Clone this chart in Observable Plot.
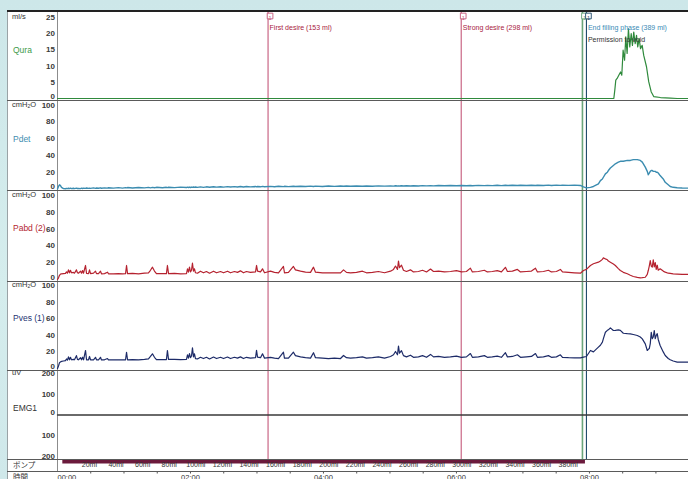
<!DOCTYPE html>
<html><head><meta charset="utf-8">
<script src="https://cdn.jsdelivr.net/npm/d3@7"></script>
<script src="https://cdn.jsdelivr.net/npm/@observablehq/plot@0.6"></script>
<style>
body{margin:0;width:688px;height:479px;overflow:hidden;position:relative;background:linear-gradient(180deg,#cde7e9 0%,#d5eded 60%,#cfe8ea 100%);font-family:"Liberation Sans",Arial,sans-serif}
.box{position:absolute;left:7px;top:11px;width:681px;height:468px;background:#fff;border-left:1px solid #9aa3a6;box-sizing:border-box}
.topline{position:absolute;left:7px;top:10px;width:681px;height:1.6px;background:#222}
.pan{position:absolute;left:7px;width:681px}
.sep{position:absolute;left:7px;width:681px;height:1px;background:#5a5a5a}
.lab{position:absolute;left:12px;font-size:7.5px;color:#333;white-space:nowrap;transform:translateY(-50%);line-height:1}
.lab sub{font-size:5px;vertical-align:-1px}
.name{font-size:8.5px;left:13px}
.jp{font-family:"Noto Sans CJK JP",sans-serif;font-size:7.5px;left:13px}
</style></head><body>
<div class="box"></div>
<div id="p1" class="pan" style="top:11px"></div>
<div id="p2" class="pan" style="top:100px"></div>
<div id="p3" class="pan" style="top:190px"></div>
<div id="p4" class="pan" style="top:281px"></div>
<div id="p5" class="pan" style="top:370px"></div>
<div id="p6" class="pan" style="top:459px"></div>
<div id="p7" class="pan" style="top:471px;height:8px;overflow:hidden"></div>
<div class="topline"></div>
<div class="sep" style="top:100px"></div>
<div class="sep" style="top:190px"></div>
<div class="sep" style="top:281px"></div>
<div class="sep" style="top:370px"></div>
<div class="sep" style="top:459px"></div>
<div class="sep" style="top:471px"></div>

<div class="lab" style="top:17px">ml/s</div>
<div class="lab name" style="top:50px;color:#3c9a4a">Qura</div>
<div class="lab" style="top:105px">cmH<sub>2</sub>O</div>
<div class="lab name" style="top:139px;color:#3e8db0">Pdet</div>
<div class="lab" style="top:195px">cmH<sub>2</sub>O</div>
<div class="lab name" style="top:228px;color:#b3262f">Pabd (2)</div>
<div class="lab" style="top:285px">cmH<sub>2</sub>O</div>
<div class="lab name" style="top:318px;color:#243372">Pves (1)</div>
<div class="lab" style="top:373px">uV</div>
<div class="lab name" style="top:408px;color:#333">EMG1</div>
<div class="lab jp" style="top:465px">ポンプ</div>
<div class="lab jp" style="top:477px">時間</div>

<script>
// ---------- data (time in seconds) ----------
const XMAX = 569.4;

const fillTime = [0,0.9,1.8,2.7,3.6,5.4,7.2,8.1,9.0,9.9,10.8,11.7,12.6,14.4,15.3,17.1,18.0,18.9,20.8,21.7,22.6,23.5,25.3,26.2,28.0,28.9,29.8,32.5,34.3,35.2,37.0,38.8,39.7,42.4,45.1,46.0,50.5,55.0,58.7,61.4,62.3,63.2,67.7,73.1,78.5,82.1,83.9,85.7,87.5,89.3,94.7,98.3,99.2,100.2,105.6,111.0,116.4,117.3,118.2,119.1,120.0,120.9,121.8,122.7,123.6,124.5,126.3,129.0,131.7,134.4,137.2,140.8,143.5,147.1,149.8,153.4,156.1,159.7,162.4,165.1,167.8,170.5,174.1,178.7,179.6,180.5,183.2,185.0,186.8,192.2,195.8,199.4,203.9,204.8,208.4,212.9,214.7,219.3,223.8,228.3,231.0,232.8,239.1,244.5,249.9,255.4,258.1,260.8,264.4,269.8,275.2,278.8,284.2,289.6,295.1,300.5,303.2,305.0,306.8,307.7,308.6,310.4,312.2,314.9,318.5,321.2,325.7,329.4,333.0,336.6,339.3,343.8,349.2,354.6,360.0,364.5,369.0,372.6,374.4,379.8,385.2,387.9,392.3,396.8,400.6,404.2,406.0,410.5,415.0,417.8,423.2,427.7,431.3,433.1,438.5,443.0,445.7,450.2,453.8,455.7,461.1,466.5,471.9,474.6,477.3,480.9,483.6,488.1,489.9,491.7,492.6,494.4,496.2,497.1,498.9,501.6,503.4,506.1,507.9,510.6,514.2,516.9,519.6,523.2,525.9,527.7,530.4,532.2,533.1,534.0,534.9,535.8,536.7,537.6,538.5,539.4,540.3,541.2,542.1,543.8,546.6,548.4,551.1,552.9,555.6,559.2,563.7,569.4];

const pabdValues = [0,2,5,6.5,6.8,7,7.2,9,7.5,11.5,8,11,8,8.5,7.5,11.5,8,7.5,9.9,7.5,10.7,7.5,16.7,7.2,7,11.5,7,7.5,9.9,7,7,9.9,6.8,7,8.7,6.8,6.8,7,6.8,7,16.7,7,7.2,6.8,7.5,8,11,14.7,10,7,7,7,16.7,7,7.2,6.8,7,12.7,8.7,14.7,9,11,19.4,10,12.7,8,7.5,9.9,8,9.5,7.5,9.9,8,9.5,8,9.9,8,9.5,8.5,10.3,8,9.5,8.5,9,16.7,9.9,9,12.7,8,9.9,8.5,8,15.5,8,8.5,15.5,11.5,9.9,8.7,8.5,14.7,8.7,8,7.8,8,7.8,11.5,8.5,8,8.5,9.9,8,8.5,9.5,8,9.9,12,16,12,22,14,17,11,9.5,11.5,9,9.5,11,9,12.5,9.5,10,9,9.5,10.5,9,9.5,13.5,9,9.5,11,9,9.5,10.5,9,14.5,9.5,10,12,9,9.5,10,13.5,9,9.5,11,9,9.5,12,9,8.5,8,7.5,10.7,12,16.7,18.7,20.6,22,24,25.8,24.5,23.5,22,20.6,18.5,16.7,13,10.7,8.5,6.8,5,3.6,2.5,2,2.2,2.7,6,10.7,16,22.6,16,14.7,23.5,15,20,12,17,11,12.7,10,8.7,7.5,7.2,6.8,6.5,6.2,6];

const pvesValues = [0,3,7,8,8.5,9,9.5,11.5,10,14,10.5,13.5,10.5,11,10.5,15.5,11,10.5,13,10.5,13.6,10.5,21.7,10.5,10.5,14.5,10.5,10.5,13.5,10.5,10.5,13.5,10.3,10.5,12,10.3,10.5,10.5,10.5,10.5,19.6,10.5,10.8,10.5,11,11.5,14.5,17.7,13.5,10.8,10.8,10.8,21.7,11,11,10.8,11,16.5,12.5,18,13,15,24.9,14,17.7,12,11.5,13.5,12,13.5,11.5,13.8,12,13.5,12,13.8,12,13.5,12.5,14,12,13.5,12.5,13,22,13.8,13,17.7,12.5,13.5,12.5,12,19.6,12.5,12.5,19.6,15.5,14,13,12.5,19,13,12.5,12,12.5,12,15.7,13,12.5,13,14,12.5,13,14,12.5,14.5,16.5,20.5,16.5,27,18.5,21.5,15.5,14,16,13.5,14,15.5,13.5,17,14,14.5,13.5,14,15,13.5,14,18,13.5,14,15.5,13.5,14,15,13.5,19,14,14.5,16.5,13.5,14,14.5,18,13.5,14,15.5,13.5,14,16.5,13.5,13,12.8,12.9,13.8,14.5,21.7,20,25.7,28,31.7,36,43.7,46,46.6,49,45.8,46,46.5,46,42.5,42,41.8,41,39.8,38,35.7,29.7,21.7,23,24,30,43.7,36,38,45.8,36,40,42,35,27.7,20,15.7,12,10.5,9,7.6,7.6,7.6];

const pdetValues = [0,3,5,4,2,0.5,0.3,0.8,0.4,0.9,0.5,1.0,0.4,0.9,0.5,1.1,0.6,0.8,0.5,1.0,0.6,1.0,0.7,1.2,0.7,1.1,0.8,1.3,0.8,1.2,0.9,1.4,0.9,1.3,1.0,1.5,1.0,1.6,1.1,1.6,1.3,1.7,1.2,1.8,1.3,1.9,1.4,1.9,1.5,2.0,1.5,2.0,1.7,2.1,1.6,2.2,1.7,2.2,1.8,2.3,1.8,2.3,1.9,2.4,1.9,2.4,2.0,2.5,2.0,2.6,2.1,2.6,2.2,2.7,2.2,2.8,2.3,2.8,2.4,2.9,2.4,2.9,2.5,3.0,2.6,3.0,2.6,3.1,2.7,3.1,2.7,3.2,2.8,3.2,2.8,3.3,2.9,3.3,2.9,3.4,3.0,3.4,3.0,3.5,3.1,3.5,3.2,3.5,3.2,3.6,3.3,3.6,3.3,3.7,3.4,3.7,3.4,3.8,3.5,3.8,3.5,3.8,3.5,3.9,3.6,3.9,3.6,4.0,3.7,4.0,3.7,4.1,3.8,4.1,3.8,4.2,3.9,4.2,3.9,4.3,4.0,4.3,4.0,4.4,4.0,4.4,4.1,4.4,4.1,4.5,4.1,4.5,4.2,4.5,4.2,4.6,4.2,4.6,4.3,4.6,4.3,4.6,4.2,2.5,1.4,2,3,6,10,12,14,18,20,22,25,28,30,32,33,33,34,34,35,35,34,32,26,21,17,19,21,22,22,21,21,21,20,20,19,16,12,8,5,3,2,1.5,1.2,1];

const flowTime = [0,502.0,502.9,503.8,505.0,506.5,508.1,509.2,510.4,511.7,512.8,514.0,515.2,516.4,517.7,518.8,520.0,521.3,522.5,523.6,524.9,526.1,527.6,529.0,531.5,533.5,535.7,538.0,544.1,553.1,559.2,569.4];
const flowValues = [0,0,2.6,5.7,6.2,7.2,8.2,7.2,14.9,11.8,19,13.9,21.5,15.9,20,16.4,20.5,16.9,19.5,15.9,18.5,15.4,16.4,13.3,9.8,5.2,2.1,0.6,0.3,0.1,0,0];

const emgTime = [0, 569.4];
const emgValues = [0, 0];

const markerTime = [190.0, 364.3, 473.7, 477.3];
const markerText = ["First desire (153 ml)", "Strong desire (298 ml)", "", "End filling phase (389 ml)"];
const voidText = "Permission to void";

const pumpStart = 4.8, pumpEnd = 476.4, pumpRateMlPerMin = 50;
const pumpVolumes = [20,40,60,80,100,120,140,160,180,200,220,240,260,280,300,320,340,360,380];
const timeTicks = [0,120,240,360,480];

// ---------- styles ----------
const markerColors = ["#c4587a", "#c4587a", "#6aa57a", "#1f4a6a"];
const FONT = '"Liberation Sans",Arial,sans-serif';

const fill = fillTime.map((t, i) => ({t, pabd: pabdValues[i], pves: pvesValues[i], pdet: pdetValues[i]}));
const flow = flowTime.map((t, i) => ({t, v: flowValues[i]}));
const emg = emgTime.map((t, i) => ({t, v: emgValues[i]}));
const markers = markerTime.map((t, i) => ({t, text: markerText[i], color: markerColors[i]}));

function markerRules(mt, mb) {
  return markers.map(m => Plot.ruleX([m.t], {stroke: m.color, strokeWidth: m.color === "#6aa57a" ? 1.6 : 1.1, insetTop: -mt, insetBottom: -mb}));
}
function yLabels(ticks, zero, fmt) {
  const common = {tickSize: 0, tickPadding: 2.5, anchor: "left", label: null, fontSize: 8, fontWeight: "bold", fontFamily: FONT, color: "#3a3a3a", tickFormat: fmt};
  return [
    Plot.axisY(ticks.filter(d => d !== zero), common),
    Plot.axisY([zero], {...common, dy: -2.5})
  ];
}
function panel(id, {height, mt, mb, domain, ticks, zero, fmt, marks}) {
  const chart = Plot.plot({
    width: 681, height, marginLeft: 50, marginRight: 0, marginTop: mt, marginBottom: mb,
    x: {domain: [0, XMAX], axis: null},
    y: {domain, axis: null},
    style: {background: "transparent", overflow: "visible"},
    marks: [
      ...markerRules(mt, mb),
      Plot.ruleX([0], {stroke: "#8c8c8c", strokeWidth: 1, insetTop: -mt, insetBottom: -mb}),
      ...marks,
      ...yLabels(ticks, zero, fmt)
    ]
  });
  document.getElementById(id).appendChild(chart);
}

// Qura
panel("p1", {height: 89, mt: 6, mb: 2, domain: [0, 25], ticks: [0,5,10,15,20,25], zero: 0,
  marks: [
    Plot.line(flow, {x: "t", y: "v", stroke: "#2f8a3c", strokeWidth: 1.2}),
    ...markers.map(m => Plot.dot([m.t], {x: d => d, frameAnchor: "top", dy: -1.5, dx: 2, symbol: "square", r: 3.2, stroke: m.color, fill: "white", strokeWidth: 0.9})),
    ...markers.map(m => Plot.text([m.t], {x: d => d, frameAnchor: "top", dy: -1.5, dx: 2, text: () => "1", fontSize: 5.5, fill: m.color, fontFamily: FONT})),
    ...markers.filter(m => m.text).map(m => Plot.text([m], {x: "t", text: "text", frameAnchor: "top", dy: 8, dx: 1.5, textAnchor: "start", fill: m.color === "#1f4a6a" ? "#3a8ab5" : "#a8203e", fontSize: 7, fontFamily: FONT})),
    Plot.text([markers[3]], {x: "t", text: () => voidText, frameAnchor: "top", dy: 20, dx: 1.5, textAnchor: "start", fill: "#333", fontSize: 7, fontFamily: FONT})
  ]});

// Pdet
panel("p2", {height: 90, mt: 4.5, mb: 1.5, domain: [0, 100], ticks: [0,20,40,60,80,100], zero: 0,
  marks: [Plot.line(fill, {x: "t", y: "pdet", stroke: "#3b8cb0", strokeWidth: 1.4})]});

// Pabd
panel("p3", {height: 91, mt: 5, mb: 2, domain: [0, 100], ticks: [0,20,40,60,80,100], zero: 0,
  marks: [Plot.line(fill, {x: "t", y: "pabd", stroke: "#b5222f", strokeWidth: 1.2})]});

// Pves
panel("p4", {height: 89, mt: 4, mb: 2, domain: [0, 100], ticks: [0,20,40,60,80,100], zero: 0,
  marks: [Plot.line(fill, {x: "t", y: "pves", stroke: "#1d2b68", strokeWidth: 1.2})]});

// EMG
panel("p5", {height: 89, mt: 3, mb: 3, domain: [-200, 200], ticks: [-200,-100,100,200], zero: 0, fmt: d => Math.abs(d),
  marks: [Plot.line(emg, {x: "t", y: "v", stroke: "#3a3a3a", strokeWidth: 1.3})]});

// Pump row
document.getElementById("p6").appendChild(Plot.plot({
  width: 681, height: 12, marginLeft: 50, marginRight: 0, marginTop: 0, marginBottom: 0,
  x: {domain: [0, XMAX], axis: null},
  style: {background: "transparent", overflow: "visible"},
  marks: [
    Plot.ruleX([0], {stroke: "#8c8c8c"}),
    Plot.rect([pumpStart], {x1: d => d, x2: () => pumpEnd, fill: "#6b1a3c", insetTop: 0.5, insetBottom: 7.5}),
    Plot.text(pumpVolumes, {x: v => pumpStart + v * 60 / pumpRateMlPerMin, text: v => v + "ml", frameAnchor: "bottom", dy: -4.5, fontSize: 7, fill: "#333", fontFamily: FONT})
  ]
}));

// Time row
const fmtTime = s => String(Math.floor(s / 60)).padStart(2, "0") + ":" + String(s % 60).padStart(2, "0");
document.getElementById("p7").appendChild(Plot.plot({
  width: 681, height: 8, marginLeft: 50, marginRight: 0, marginTop: 0, marginBottom: 0,
  x: {domain: [0, XMAX], axis: null},
  style: {background: "transparent", overflow: "visible"},
  marks: [
    Plot.tickX(d3.range(30, XMAX, 30), {x: d => d, stroke: "#555", insetBottom: 5.5}),
    Plot.text([timeTicks[0]], {x: d => d, text: fmtTime, frameAnchor: "top", lineAnchor: "top", dy: 3.5, textAnchor: "start", fontSize: 7.5, fill: "#333", fontFamily: FONT}),
    Plot.text(timeTicks.slice(1), {x: d => d, text: fmtTime, frameAnchor: "top", lineAnchor: "top", dy: 3.5, fontSize: 7.5, fill: "#333", fontFamily: FONT})
  ]
}));
</script>
</body></html>
